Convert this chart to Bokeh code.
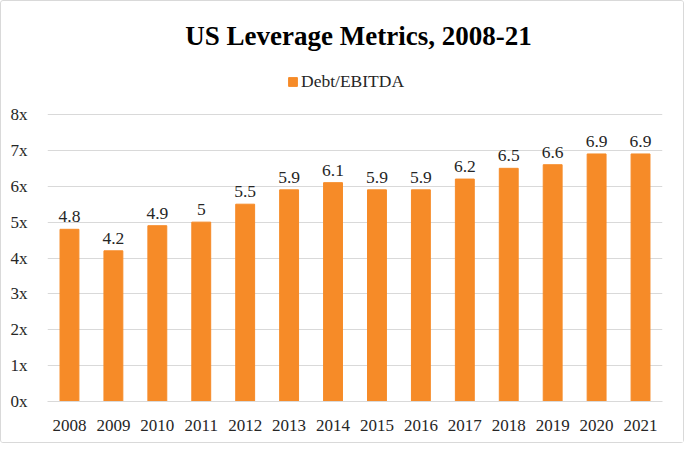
from bokeh.plotting import figure
from bokeh.models import FactorRange, Range1d, ColumnDataSource, PrintfTickFormatter, Legend, LegendItem, Label
from bokeh.core.properties import value
from bokeh.embed import file_html
from bokeh.resources import INLINE

years = ["2008", "2009", "2010", "2011", "2012", "2013", "2014", "2015", "2016", "2017", "2018", "2019", "2020", "2021"]
debt_ebitda = [4.8, 4.2, 4.9, 5, 5.5, 5.9, 6.1, 5.9, 5.9, 6.2, 6.5, 6.6, 6.9, 6.9]
labels = ["4.8", "4.2", "4.9", "5", "5.5", "5.9", "6.1", "5.9", "5.9", "6.2", "6.5", "6.6", "6.9", "6.9"]
y_ticks = [0, 1, 2, 3, 4, 5, 6, 7, 8]
title_text = "US Leverage Metrics, 2008-21"

SERIF = "Times New Roman"
ORANGE = "#F68B28"

W, H = 684, 443
BL, BR, BT, BB = 46, 23, 1, 43
FW, FH = W - BL - BR, H - BT - BB
DATA_TOP_PX = 112  # distance from frame top down to the 8x gridline
Y_MAX = 8 * FH / (FH - DATA_TOP_PX)

src = ColumnDataSource(dict(x=years, top=debt_ebitda, label=labels))

p = figure(width=W, height=H, x_range=FactorRange(*years), y_range=Range1d(0, Y_MAX),
           output_backend="svg", toolbar_location=None,
           min_border_left=BL, min_border_right=BR, min_border_top=BT, min_border_bottom=BB)
p.styles = {"border": "1px solid #d9d9d9", "border-radius": "3px", "box-sizing": "border-box"}

r = p.vbar(x="x", top="top", width=0.43, source=src, color=ORANGE)
p.text(x="x", y="top", text="label", source=src, text_align="center", text_baseline="bottom",
       y_offset=-7, text_font=value(SERIF), text_font_size="17.5px", text_color="#262626")

title = Label(x=357 - BL, y=FH - 33, x_units="screen", y_units="screen", text=title_text,
              text_font=SERIF, text_font_size="27px", text_font_style="bold", text_color="black",
              text_align="center", text_baseline="middle")
p.add_layout(title)

legend = Legend(items=[LegendItem(label="Debt/EBITDA", renderers=[r])], orientation="horizontal",
                location=(286 - BL, FH - 90), label_text_font=SERIF, label_text_font_size="17.5px",
                label_text_color="#262626", glyph_width=11, glyph_height=11, label_standoff=3,
                border_line_color=None, background_fill_alpha=0, padding=2, margin=0,
                label_height=20, spacing=0)
p.add_layout(legend)

p.outline_line_color = None
p.xgrid.grid_line_color = None
p.ygrid.grid_line_color = "#d9d9d9"
p.ygrid.grid_line_width = 1
p.yaxis.ticker = y_ticks
p.yaxis.formatter = PrintfTickFormatter(format="%dx")
for ax in (p.xaxis, p.yaxis):
    ax.axis_line_color = None
    ax.major_tick_line_color = None
    ax.minor_tick_line_color = None
    ax.major_label_text_font = SERIF
    ax.major_label_text_font_size = "17px"
    ax.major_label_text_color = "#262626"
p.xaxis.axis_line_color = "#d9d9d9"
p.yaxis.major_label_standoff = 14
p.xaxis.major_label_standoff = 12
p.x_range.range_padding = 0
p.x_range.group_padding = 0

open("out.html", "w").write(file_html(p, INLINE))
